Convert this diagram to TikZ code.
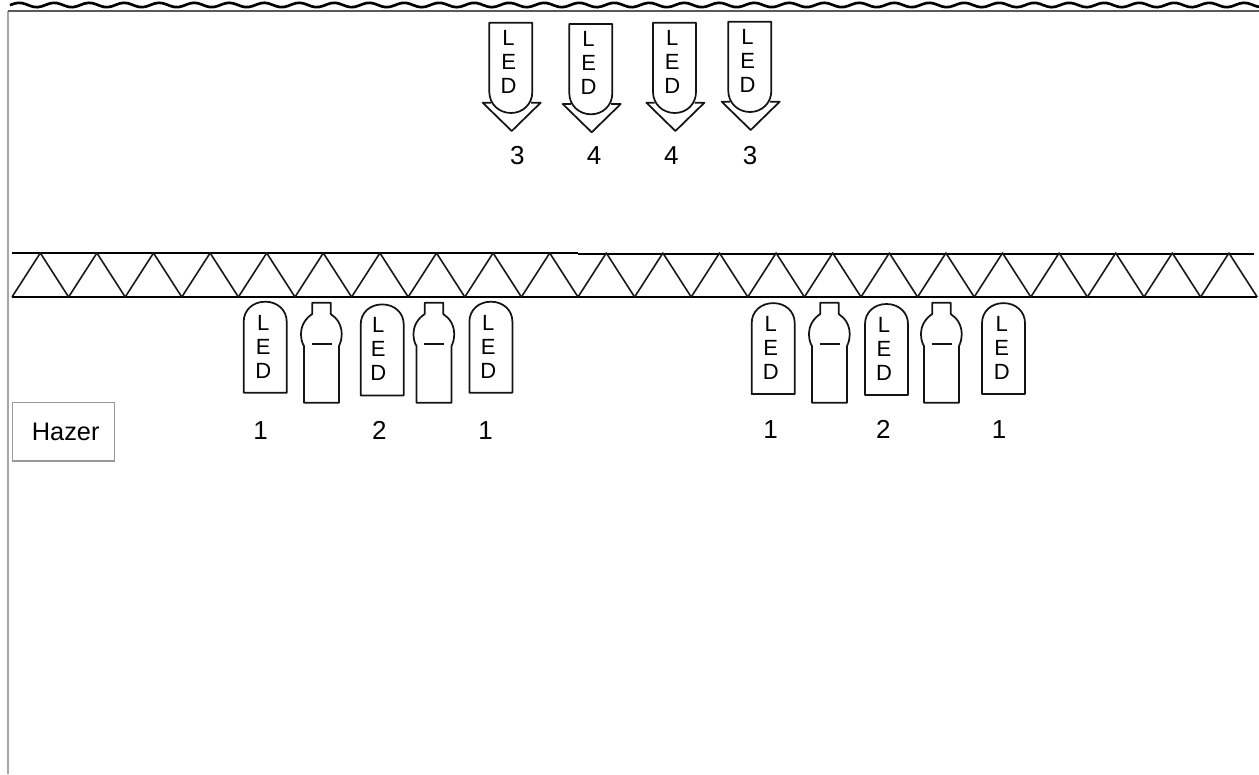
\documentclass[tikz,border=0pt]{standalone}
\usepackage{fontspec}
\setmainfont{Liberation Sans}
\tikzset{
  ln/.style={draw=black!92,line width=1.3pt,line join=round},
  chord/.style={draw=black,line width=1.5pt},
  ledtext/.style={align=center,inner sep=0pt,font=\fontsize{16.5}{18}\selectfont,text=black},
  num/.style={inner sep=0pt,text height=14pt,text depth=0pt,font=\fontsize{19.5}{20}\selectfont,text=black},
}
% top arrow LED: name, dx, dy
\newcommand\arrowled[3]{
  \begin{scope}[shift={(#2,#3)}]
    \draw[ln] (489.3,92) -- (489.3,22.7) -- (532.3,22.7) -- (532.3,92)
      .. controls (532.3,104) and (523,113) .. (511,113)
      .. controls (499,113) and (489.3,104) .. (489.3,92);
    \draw[ln] (491,102.7) -- (482.7,102.7) -- (511.7,131) -- (540.7,102.7) -- (531,102.7);
    \node[ledtext] (#1) at (508.6,62) {L\\E\\D};
  \end{scope}
}
% hanging LED: name, dx, dy, letter x
\newcommand\lowled[4]{
  \begin{scope}[shift={(#2,#3)}]
    \draw[ln] (243.7,321.7) .. controls (243.7,310) and (253,301.7) .. (265.2,301.7)
      .. controls (277.4,301.7) and (286.7,310) .. (286.7,321.7)
      -- (286.7,392.7) -- (243.7,392.7) -- cycle;
    \node[ledtext] (#1) at (#4,346.5) {L\\E\\D};
  \end{scope}
}
% bottle: name, dx
\newcommand\bottle[2]{
  \begin{scope}[shift={(#2,0)}]
    \draw[ln] (312.3,314) -- (312.3,302.7) -- (330.7,302.7) -- (330.7,314)
      .. controls (337,318) and (341.7,325) .. (341.7,334)
      .. controls (341.7,339) and (340.5,343) .. (339,346)
      -- (339,402.7) -- (304,402.7) -- (304,346)
      .. controls (302,343) and (301,339) .. (301,334)
      .. controls (301,325) and (306,318) .. (312.3,314);
    \draw[ln] (311.7,344.3) -- (331.7,344.3);
    \coordinate (#1) at (321,350);
  \end{scope}
}
\begin{document}
\begin{tikzpicture}[x=0.75pt,y=-0.75pt]
\useasboundingbox (0,0) rectangle (1259,774);
\fill[white] (0,0) rectangle (1259,774);
% page edges
\draw[draw=black!35,line width=1.3pt] (8,11) -- (8,774);
\draw[draw=black!65,line width=1pt] (8,11) -- (1259,11);
% wavy edge
\draw[draw=black,line width=2pt,smooth,samples=320,domain=10:1259,variable=\t]
  plot (\t,{5+2.2*cos((\t-36.7)*10.2857)});
% truss
\draw[chord] (12,252.6) -- (578,252.6);
\draw[chord] (578,253.5) -- (1254,253.5);
\draw[chord] (12,296.6) -- (578,296.6);
\draw[chord] (578,297.4) -- (1257,297.4);
\foreach \i in {0,...,21}{
  \pgfmathsetmacro\xa{12+56.6*\i}
  \pgfmathsetmacro\xb{\xa+28.3}
  \pgfmathsetmacro\xc{\xa+56.6}
  \draw[draw=black!90,line width=1.2pt,line join=round] (\xa,297) -- (\xb,253) -- (\xc,297);
}
% top LEDs
\arrowled{aa}{0}{0}
\arrowled{ab}{80}{1.3}
\arrowled{ac}{163.7}{0}
\arrowled{ad}{239}{-1}
\node[num] (na) at (517.3,155) {3};
\node[num] (nb) at (594,155) {4};
\node[num] (nc) at (671.3,155) {4};
\node[num] (nd) at (750,155) {3};
% hanging lights left
\lowled{la}{0}{0}{263.3}
\bottle{ba}{0}
\lowled{lb}{117}{2.7}{261.3}
\bottle{bb}{112.5}
\lowled{lc}{225.7}{0}{262.6}
\node[num] (ma) at (260.7,430) {1};
\node[num] (mb) at (379.3,430) {2};
\node[num] (mc) at (485.7,430) {1};
% hanging lights right
\lowled{ld}{508}{1.4}{262.7}
\bottle{bc}{508}
\lowled{le}{621.3}{2.3}{262.7}
\bottle{bd}{620}
\lowled{lf}{738.3}{1.4}{263.4}
\node[num] (me) at (770.7,429) {1};
\node[num] (mf) at (883.3,429) {2};
\node[num] (mg) at (999,429) {1};
% hazer
\node[draw=black!40,line width=0.8pt,minimum width=76.5pt,minimum height=44.2pt,inner sep=0pt,
  font=\fontsize{19}{20}\selectfont,text=black] (hazer) at (63.7,431.5) {\hspace{3pt}Hazer};
\end{tikzpicture}
\end{document}
